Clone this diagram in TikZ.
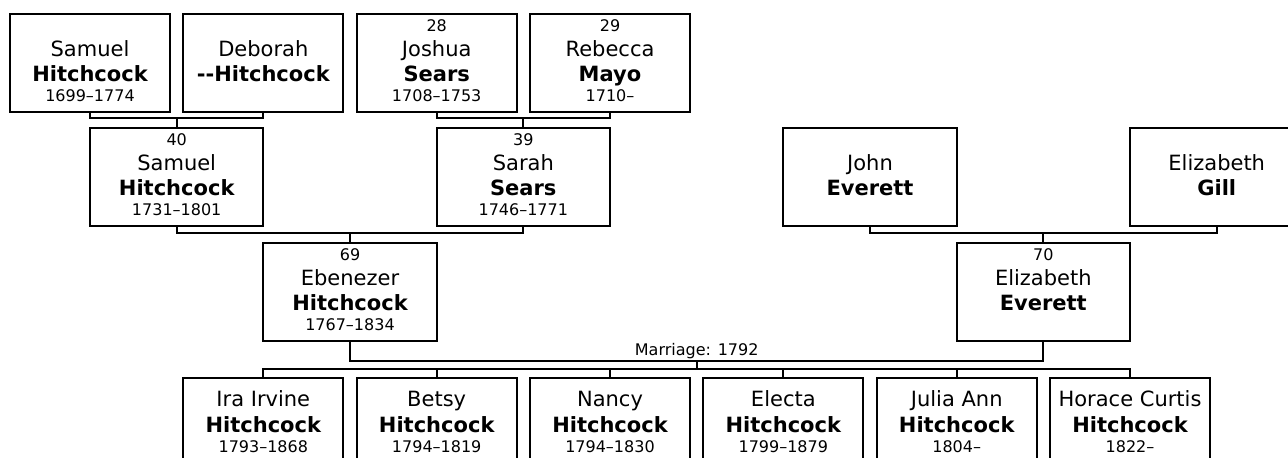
\documentclass[tikz,border=0pt]{standalone}
\usepackage{fontspec}
\setmainfont{DejaVu Sans}
\newcommand{\smallfont}{\fontsize{8}{9.6}\selectfont}
\newcommand{\namefont}{\fontsize{10.5}{12.6}\selectfont}
% number, given name, surname, dates on fixed baselines
\newcommand{\persontext}[4]{%
  \vbox{\offinterlineskip\halign{\hfil##\hfil\cr
    \rule[-2.5pt]{0pt}{11.35pt}\smallfont #1\cr
    \rule[-2.5pt]{0pt}{12.65pt}\namefont #2\cr
    \rule[-2.5pt]{0pt}{12.5pt}\namefont\bfseries #3\cr
    \rule[-5pt]{0pt}{12.5pt}\smallfont #4\cr}}}
% children: no number line
\newcommand{\kidtext}[3]{%
  \vbox{\offinterlineskip\halign{\hfil##\hfil\cr
    \rule[-2.5pt]{0pt}{17pt}\namefont #1\cr
    \rule[-2.5pt]{0pt}{12.85pt}\namefont\bfseries #2\cr
    \rule[-11.65pt]{0pt}{19.15pt}\smallfont #3\cr}}}

\begin{document}
\begin{tikzpicture}[x=0.5pt, y=-0.5pt, line width=1pt,
  person/.style={draw, inner sep=0pt, minimum width=80pt, minimum height=49pt, anchor=north},
  wide/.style={person, minimum width=86.67pt},
  lbl/.style={font=\smallfont, inner sep=0pt}]

  \path[fill=white, use as bounding box] (0,0) rectangle (1288,458);
  \clip (0,0) rectangle (1288,458);

  \node[person] (samA) at (90,13) {\persontext{}{Samuel}{Hitchcock}{1699–1774}};
  \node[person] (debA) at (263.3,13) {\persontext{}{Deborah}{\mbox{-}\mbox{-}Hitchcock}{}};
  \node[person] (josB) at (436.7,13) {\persontext{28}{Joshua}{Sears}{1708–1753}};
  \node[person] (rebB) at (610,13) {\persontext{29}{Rebecca}{Mayo}{1710–}};

  \node[wide] (samC) at (176.7,127) {\persontext{40}{Samuel}{Hitchcock}{1731–1801}};
  \node[wide] (sarC) at (523.3,127) {\persontext{39}{Sarah}{Sears}{1746–1771}};
  \node[wide] (johD) at (870,127) {\persontext{}{John}{Everett}{}};
  \node[wide] (gilD) at (1216.7,127) {\persontext{}{Elizabeth}{Gill}{}};

  \node[wide] (ebe) at (350,242) {\persontext{69}{Ebenezer}{Hitchcock}{1767–1834}};
  \node[wide] (eli) at (1043.3,242) {\persontext{70}{Elizabeth}{Everett}{}};

  \node[person] (ira) at (263.3,377) {\kidtext{Ira Irvine}{Hitchcock}{1793–1868}};
  \node[person] (bet) at (436.7,377) {\kidtext{Betsy}{Hitchcock}{1794–1819}};
  \node[person] (nan) at (610,377) {\kidtext{Nancy}{Hitchcock}{1794–1830}};
  \node[person] (ele) at (783.3,377) {\kidtext{Electa}{Hitchcock}{1799–1879}};
  \node[person] (jul) at (956.7,377) {\kidtext{Julia Ann}{Hitchcock}{1804–}};
  \node[person] (hor) at (1130,377) {\kidtext{Horace Curtis}{Hitchcock}{1822–}};

  \coordinate (jA) at (176.7,118.3);
  \coordinate (jB) at (523.3,118.3);
  \coordinate (jC) at (350,233.3);
  \coordinate (jD) at (1043.3,233.3);
  \coordinate (jM) at (696.7,360.7);
  \coordinate (bus) at (696.7,369.3);

  \draw (samA.south) |- (jA) -| (debA.south);
  \draw (jA) -- (samC.north);
  \draw (josB.south) |- (jB) -| (rebB.south);
  \draw (jB) -- (sarC.north);
  \draw (samC.south) |- (jC) -| (sarC.south);
  \draw (jC) -- (ebe.north);
  \draw (johD.south) |- (jD) -| (gilD.south);
  \draw (jD) -- (eli.north);

  \draw (ebe.south) |- (jM) -| (eli.south);
  \node[lbl, anchor=base] (marr) at (696.7,356) {Marriage: 1792};
  \draw (jM) -- (bus);
  \draw (ira.north) |- (bus) -| (hor.north);
  \foreach \k in {bet,nan,ele,jul}
    \draw (\k.north) -- (\k.north |- bus);

\end{tikzpicture}
\end{document}
